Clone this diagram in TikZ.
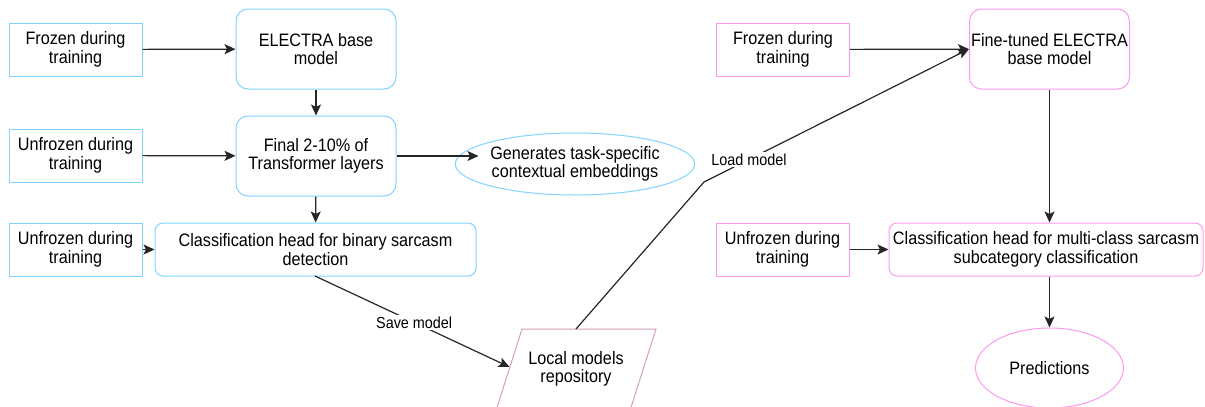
\documentclass[tikz,border=0pt]{standalone}
\usepackage{fontspec}
\setmainfont[FakeStretch=0.9]{Liberation Sans}
\usetikzlibrary{shapes.geometric,arrows.meta}
\definecolor{cyanline}{HTML}{80D4FF}
\definecolor{pinkline}{HTML}{FF99F0}
\definecolor{mauveline}{HTML}{D0A0BC}
\tikzset{
  every node/.style={font=\fontsize{18}{18.5}\selectfont, align=center, inner sep=0pt},
  sqbox/.style={draw, line width=1pt, minimum width=#1, minimum height=53pt},
  rbox/.style={draw, line width=1pt, rounded corners=12pt, minimum width=160pt, minimum height=80pt},
  hbox/.style={draw, line width=1pt, rounded corners=8pt, minimum width=#1, minimum height=53pt},
  oval/.style={draw, line width=1pt, ellipse, minimum width=#1},
  link/.style={draw=black!85, line width=1.2pt, -{Stealth[length=11pt,width=10pt,inset=2.5pt]}},
  lbl/.style={font=\fontsize{16}{18}\selectfont, fill=white, inner sep=2pt},
}
\begin{document}
\begin{tikzpicture}[x=1pt,y=-1pt]
\useasboundingbox (0,0) rectangle (1205,407);
\begin{scope}
\clip (0,0) rectangle (1205,407);
% left pipeline: binary sarcasm detection
\node[sqbox=133pt, draw=cyanline] (f1) at (75.5,49.5) {Frozen during\\training};
\node[rbox, draw=cyanline] (base) at (316,49) {ELECTRA base\\model};
\node[sqbox=133pt, draw=cyanline] (u1) at (75.5,155.5) {Unfrozen during\\training};
\node[rbox, draw=cyanline] (last) at (316,156) {Final 2-10\% of\\Transformer layers};
\node[oval=200pt, minimum height=62pt, draw=cyanline] (emb) at (575,164) {Generates task-specific\\contextual embeddings};
\coordinate (embin) at (478.5,156);
\node[sqbox=133pt, draw=cyanline] (u2) at (75.5,249.5) {Unfrozen during\\training};
\node[hbox=321pt, draw=cyanline] (bin) at (315.5,249.5) {Classification head for binary sarcasm\\detection};
% model store: a parallelogram leaning to the right
\node (repo) at (576,369) {Local models\\repository};
\coordinate (repoL) at (509.5,367);
\coordinate (repoT) at (576,329);
\draw[mauveline, line width=1pt] (522,329) -- (656,329) -- (630.5,409) -- (496.5,409) -- cycle;
% right pipeline: sarcasm subcategory classification
\node[sqbox=133pt, draw=pinkline] (f2) at (783,49.5) {Frozen during\\training};
\node[rbox, draw=pinkline] (ft) at (1049.5,49) {Fine-tuned ELECTRA\\base model};
\node[sqbox=133pt, draw=pinkline] (u3) at (782.5,249.5) {Unfrozen during\\training};
\node[hbox=314pt, draw=pinkline] (multi) at (1046,249.5) {Classification head for multi-class sarcasm\\subcategory classification};
\node[oval=148pt, minimum height=80pt, draw=pinkline] (pred) at (1049.5,368) {Predictions};
% connectors
\draw[link] (f1) -- (base);
\draw[link] (base) -- (last);
\draw[link] (u1) -- (last);
\draw[link] (last) -- (embin);
\draw[link] (last) -- (bin);
\draw[link] (u2) -- (bin);
\coordinate (binout) at (315,276);
\draw[link] (binout) -- node[lbl, pos=0.51] {Save model} (repoL);
\coordinate (bend) at (704,182);
\draw[link] (repoT) -- (bend) -- node[lbl, pos=0.17] {Load model} (ft.west);
\draw[link] (f2) -- (ft);
\draw[link] (ft.south) -- (multi.north -| ft.south);
\draw[link] (u3) -- (multi);
\draw[link] (multi.south -| pred.north) -- (pred);
\end{scope}
\end{tikzpicture}
\end{document}
